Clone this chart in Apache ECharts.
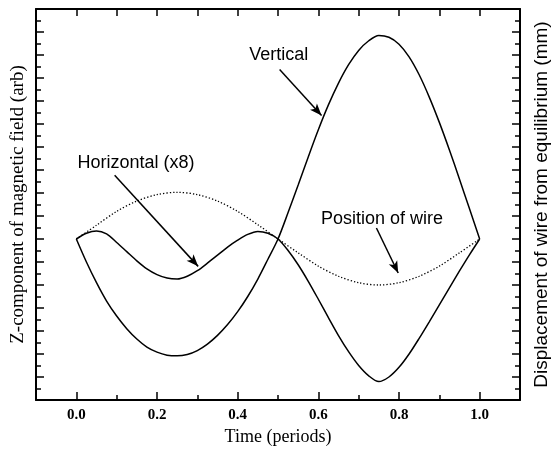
<!DOCTYPE html>
<html>
<head>
<meta charset="utf-8">
<title>Z-component of magnetic field vs time</title>
<script src="https://cdn.jsdelivr.net/npm/echarts@6/dist/echarts.min.js"></script>
<style>
html, body { margin: 0; padding: 0; background: #fff; }
#chart { width: 551px; height: 458px; }
</style>
</head>
<body>
<div id="chart"></div>
<script>
// Time (periods), field curves sampled every 0.025
const times = [0, 0.025, 0.05, 0.075, 0.1, 0.125, 0.15, 0.175, 0.2, 0.225,
    0.25, 0.275, 0.3, 0.325, 0.35, 0.375, 0.4, 0.425, 0.45, 0.475,
    0.5, 0.525, 0.55, 0.575, 0.6, 0.625, 0.65, 0.675, 0.7, 0.725,
    0.75, 0.775, 0.8, 0.825, 0.85, 0.875, 0.9, 0.925, 0.95, 0.975, 1.0];
const vertical = [0, -1.0, -1.9, -2.7, -3.35, -3.9, -4.35, -4.7, -4.92, -5.05,
    -5.08, -5.02, -4.85, -4.57, -4.19, -3.72, -3.16, -2.5, -1.74, -0.88,
    0, 1.15, 2.35, 3.57, 4.75, 5.83, 6.78, 7.58, 8.2, 8.62,
    8.85, 8.77, 8.47, 7.92, 7.14, 6.17, 5.07, 3.87, 2.6, 1.3, 0];
const horizontal = [0, 0.25, 0.35, 0.22, -0.15, -0.55, -0.95, -1.3, -1.55, -1.7,
    -1.74, -1.62, -1.38, -1.05, -0.7, -0.35, -0.05, 0.2, 0.33, 0.25,
    0, -0.5, -1.12, -1.84, -2.62, -3.42, -4.2, -4.9, -5.5, -5.95,
    -6.2, -6.0, -5.58, -5.0, -4.32, -3.6, -2.86, -2.12, -1.39, -0.68, 0];

// Wire displacement, sampled every 0.05
const wireTimes = [0, 0.05, 0.1, 0.15, 0.2, 0.25, 0.3, 0.35, 0.4, 0.45,
    0.5, 0.55, 0.6, 0.65, 0.7, 0.75, 0.8, 0.85, 0.9, 0.95, 1.0];
const wirePosition = [0, 0.6, 1.2, 1.65, 1.93, 2.03, 1.93, 1.65, 1.2, 0.62,
    0, -0.6, -1.18, -1.62, -1.9, -2.0, -1.9, -1.62, -1.18, -0.6, 0];

const xTickLabels = [0, 0.2, 0.4, 0.6, 0.8, 1.0];

// Annotations, in data coordinates
const arrows = [
    [[0.504, 7.37], [0.608, 5.37]],
    [[0.095, 2.77], [0.302, -1.19]],
    [[0.744, 0.48], [0.798, -1.48]]
];
const notes = [
    {text: 'Vertical', at: [0.502, 8.0]},
    {text: 'Horizontal (x8)', at: [0.148, 3.3]},
    {text: 'Position of wire', at: [0.758, 0.85]}
];

const serif = '"Liberation Serif", "Times New Roman", serif';
const sans = '"Liberation Sans", Arial, sans-serif';
const black = '#000';

function pairs(xs, ys) {
    return xs.map((x, i) => [x, ys[i]]);
}

function frameX(position, extra) {
    return Object.assign({
        type: 'value',
        position: position,
        min: -0.1,
        max: 1.1,
        interval: 0.1,
        axisLine: {onZero: false, lineStyle: {color: black, width: 2}},
        axisTick: {inside: true, length: 5, lineStyle: {color: black, width: 1.5}},
        axisLabel: {show: false},
        splitLine: {show: false}
    }, extra || {});
}

function frameY(position, extra) {
    return Object.assign({
        type: 'value',
        position: position,
        min: -7,
        max: 10,
        interval: 1,
        axisLine: {onZero: false, lineStyle: {color: black, width: 2}},
        axisTick: {inside: true, length: 8, lineStyle: {color: black, width: 1.5}},
        minorTick: {show: true, splitNumber: 2, length: 5, lineStyle: {color: black, width: 1.5}},
        axisLabel: {show: false},
        splitLine: {show: false},
        minorSplitLine: {show: false},
        nameLocation: 'middle',
        nameRotate: 90
    }, extra || {});
}

function curve(name, xs, ys, extra) {
    return Object.assign({
        name: name,
        type: 'line',
        data: pairs(xs, ys),
        smooth: 0.3,
        showSymbol: false,
        lineStyle: {color: black, width: 1.5}
    }, extra || {});
}

const chart = echarts.init(document.getElementById('chart'));
chart.setOption({
    animation: false,
    backgroundColor: '#fff',
    grid: {left: 36, right: 31, top: 9, bottom: 58, containLabel: false, outerBoundsMode: 'none'},
    xAxis: [
        frameX('bottom'),
        frameX('bottom', {
            interval: null,
            axisLine: {show: false, onZero: false},
            axisTick: {inside: true, length: 8, customValues: xTickLabels, lineStyle: {color: black, width: 1.5}},
            axisLabel: {
                show: true,
                customValues: xTickLabels,
                formatter: v => v.toFixed(1),
                margin: 8,
                color: black,
                fontFamily: serif,
                fontWeight: 'bold',
                fontSize: 15
            },
            name: 'Time (periods)',
            nameLocation: 'middle',
            nameGap: 27,
            nameTextStyle: {color: black, fontFamily: serif, fontSize: 18}
        }),
        frameX('top', {axisTick: {inside: true, length: 7, lineStyle: {color: black, width: 1.5}}})
    ],
    yAxis: [
        frameY('left', {
            name: 'Z-component of magnetic field (arb)',
            nameGap: 8,
            nameTextStyle: {color: black, fontFamily: serif, fontSize: 19}
        }),
        frameY('right', {
            name: 'Displacement of wire from equilibrium (mm)',
            nameGap: 12,
            nameTextStyle: {color: black, fontFamily: sans, fontSize: 19}
        })
    ],
    series: [
        curve('Vertical', times, vertical, {
            markLine: {
                silent: true,
                symbol: ['none', 'arrow'],
                symbolSize: [7, 12],
                lineStyle: {color: black, width: 1.5, type: 'solid'},
                itemStyle: {color: black},
                label: {show: false},
                data: arrows.map(a => [{coord: a[0]}, {coord: a[1]}])
            },
            markPoint: {
                silent: true,
                symbol: 'rect',
                symbolSize: 1,
                itemStyle: {color: 'rgba(0,0,0,0)'},
                label: {
                    show: true,
                    position: 'inside',
                    formatter: p => p.name,
                    color: black,
                    fontFamily: sans,
                    fontSize: 18
                },
                data: notes.map(n => ({name: n.text, coord: n.at}))
            }
        }),
        curve('Horizontal (x8)', times, horizontal),
        curve('Position of wire', wireTimes, wirePosition, {
            yAxisIndex: 1,
            lineStyle: {color: black, width: 1.3, type: [1.3, 2]}
        })
    ]
});
</script>
</body>
</html>
